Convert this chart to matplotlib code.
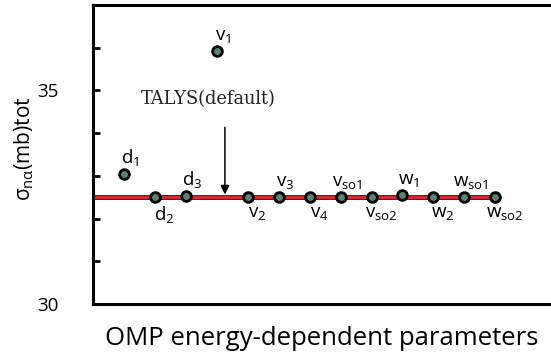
import numpy as np
import matplotlib.pyplot as plt
from matplotlib.ticker import MultipleLocator

plt.rcParams['font.family'] = ['Open Sans', 'DejaVu Sans']
plt.rcParams['mathtext.fontset'] = 'custom'
plt.rcParams['mathtext.rm'] = 'Open Sans'
plt.rcParams['mathtext.it'] = 'Open Sans'
plt.rcParams['mathtext.default'] = 'regular'

# parametri OMP e sezione d'urto totale (mb)
params = ['d_1', 'd_2', 'd_3', 'v_1', 'v_2', 'v_3', 'v_4',
          'v_{so1}', 'v_{so2}', 'w_1', 'w_2', 'w_{so1}', 'w_{so2}']
sigma = [33.05, 32.5, 32.52, 35.93, 32.5, 32.5, 32.5,
         32.5, 32.5, 32.55, 32.5, 32.5, 32.5]
label_side = ['up', 'down', 'up', 'up', 'down', 'up', 'down',
              'up', 'down', 'up', 'down', 'up', 'down']
sigma_default = 32.5
x_default = 4.26

x = np.arange(1, len(params) + 1)

fig = plt.figure(figsize=(5.51, 3.56), dpi=100)
ax = fig.add_axes([0.169, 0.146, 0.831, 0.84])

ax.plot([0, x[-1]], [sigma_default, sigma_default], color='#7a1418', lw=3.6, zorder=1)
ax.plot([0, x[-1]], [sigma_default, sigma_default], color='#d0303a', lw=2.0, zorder=2)
ax.plot(x, sigma, 'o', ms=7, mfc='#5f8070', mec='black', mew=2, zorder=3)

for xi, yi, name, side in zip(x, sigma, params, label_side):
    if side == 'up':
        ax.text(xi + 0.2, yi + 0.14, f'${name}$', fontsize=13.5, ha='center', va='bottom')
    else:
        ax.text(xi + 0.3, yi - 0.17, f'${name}$', fontsize=13.5, ha='center', va='top')

ax.annotate('', xy=(x_default, sigma_default), xytext=(x_default, 34.2),
            arrowprops=dict(arrowstyle='-|>', color='black', lw=1.1, mutation_scale=13))
ax.text(3.72, 34.8, 'TALYS(default)', family='DejaVu Serif', fontsize=12.8,
        ha='center', va='center', color='#222222')

ax.set_xlim(0, 14.8)
ax.set_ylim(30, 37)
ax.set_xticks([])
ax.yaxis.set_major_locator(MultipleLocator(5))
ax.yaxis.set_minor_locator(MultipleLocator(1))
ax.tick_params(axis='y', which='both', direction='in', length=5, width=2, pad=25,
               labelsize=13.5, colors='black')
for s in ['left', 'top', 'bottom']:
    ax.spines[s].set_linewidth(2.2)
ax.spines['right'].set_visible(False)

ax.set_ylabel(r'$\sigma_{n\alpha}$(mb)tot', fontsize=15, labelpad=3)
ax.yaxis.set_label_coords(-0.125, 0.52)
ax.set_xlabel('OMP energy-dependent parameters', fontsize=18.5, labelpad=16)

fig.savefig('out.png', dpi=100)
